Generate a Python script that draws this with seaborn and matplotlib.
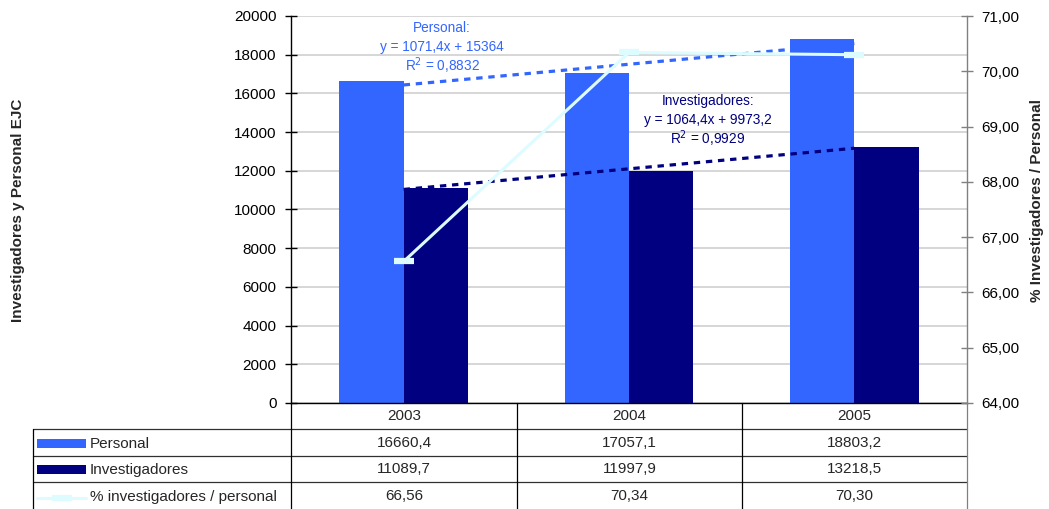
import numpy as np
import pandas as pd
import matplotlib
matplotlib.use("Agg")
import matplotlib.pyplot as plt
import seaborn as sns
from matplotlib.lines import Line2D
from matplotlib.patches import Rectangle

# ---------------- data ----------------
years = ["2003", "2004", "2005"]
personal = [16660.4, 17057.1, 18803.2]
investigadores = [11089.7, 11997.9, 13218.5]
ratio = [66.56, 70.34, 70.30]
series_names = ["Personal", "Investigadores", "% investigadores / personal"]
left_ticks = [0, 2000, 4000, 6000, 8000, 10000, 12000, 14000, 16000, 18000, 20000]
right_ticks = [64, 65, 66, 67, 68, 69, 70, 71]
ylabel_left = "Investigadores y Personal EJC"
ylabel_right = "% Investigadores / Personal"

c_pers = "#3366FF"
c_inv = "#000080"
c_ratio = "#DDFCFF"

W, H = 1049, 509
sns.set_theme(style="white")
plt.rcParams['font.family'] = ['Liberation Sans', 'DejaVu Sans']

FS = 11
FS_ANN = 9.8

fig = plt.figure(figsize=(W / 100, H / 100), dpi=100)


def fx(x):
    return x / W


def fy(y):
    return 1 - y / H


L, R, T, B = 291, 967, 16, 403
ax = fig.add_axes([fx(L), fy(B), fx(R) - fx(L), fy(T) - fy(B)])

df = pd.DataFrame({
    "year": years * 2,
    "serie": [series_names[0]] * 3 + [series_names[1]] * 3,
    "valor": personal + investigadores,
})
sns.barplot(data=df, x="year", y="valor", hue="serie",
            palette=[c_pers, c_inv], width=0.57, saturation=1,
            ax=ax, legend=False, linewidth=0, errorbar=None, gap=0)

ax.set_xlim(-0.5, 2.5)
ax.set_ylim(0, 20000)
ax.set_yticks(left_ticks)
ax.set_yticklabels([str(t) for t in left_ticks])
ax.set_xticks([])
ax.set_xlabel("")
ax.set_ylabel("")
ax.yaxis.grid(True, color="#d0d0d0", lw=1.2)
ax.set_axisbelow(True)
ax.tick_params(axis="y", direction="inout", length=9, width=1, labelsize=FS,
               colors="black", pad=6, left=True)
for s in ["top", "right"]:
    ax.spines[s].set_visible(False)
ax.spines["left"].set_color("black")
ax.spines["bottom"].set_color("black")
ax.spines["left"].set_linewidth(1)
ax.spines["bottom"].set_linewidth(1)

# trend lines (Excel-style linear fit, x = 1..3)
xs = np.array([1, 2, 3])


def fit(vals):
    v = np.array(vals)
    m, b = np.polyfit(xs, v, 1)
    pred = m * xs + b
    r2 = 1 - np.sum((v - pred) ** 2) / np.sum((v - v.mean()) ** 2)
    return m, b, r2, pred


def fmt(v, sig=5):
    d = max(0, sig - len(str(int(abs(v)))))
    s = f"{v:.{d}f}"
    return s.replace(".", ",")


mp, bp, r2p, predp = fit(personal)
mi, bi, r2i, predi = fit(investigadores)

sns.lineplot(x=xs - 1, y=predp, ax=ax, color=c_pers, lw=2.3,
             linestyle=(0, (2, 1.8)), legend=False)
sns.lineplot(x=xs - 1, y=predi, ax=ax, color=c_inv, lw=2.3,
             linestyle=(0, (2, 1.8)), legend=False)

# annotations
fig.text(fx(442), fy(28), "Personal:", color=c_pers, fontsize=FS_ANN, ha="center", va="center")
fig.text(fx(442), fy(47), f"y = {fmt(mp)}x + {fmt(bp)}", color=c_pers, fontsize=FS_ANN,
         ha="center", va="center")
fig.text(fx(442), fy(66), f"R$^2$ = {r2p:.4f}".replace(".", ","), color=c_pers,
         fontsize=FS_ANN, ha="center", va="center")
fig.text(fx(708), fy(101), "Investigadores:", color=c_inv, fontsize=FS_ANN,
         ha="center", va="center")
fig.text(fx(708), fy(120), f"y = {fmt(mi)}x + {fmt(bi)}", color=c_inv, fontsize=FS_ANN,
         ha="center", va="center")
fig.text(fx(708), fy(139), f"R$^2$ = {r2i:.4f}".replace(".", ","), color=c_inv,
         fontsize=FS_ANN, ha="center", va="center")

# secondary axis
ax2 = ax.twinx()
sns.lineplot(x=[0, 1, 2], y=ratio, ax=ax2, color=c_ratio, lw=2.2,
             marker="_", markersize=14, markeredgewidth=4.5,
             markeredgecolor=c_ratio, legend=False)
ax2.set_xlim(-0.5, 2.5)
ax2.set_ylim(64, 71)
ax2.set_yticks(right_ticks)
ax2.set_yticklabels([f"{t:.2f}".replace(".", ",") for t in right_ticks])
ax2.tick_params(axis="y", direction="inout", length=9, width=1, labelsize=FS,
                colors="black", pad=6, right=True)
ax2.tick_params(axis="y", color="#808080")
for s in ["top", "left", "bottom"]:
    ax2.spines[s].set_visible(False)
ax2.spines["right"].set_color("#808080")
ax2.spines["right"].set_linewidth(1)
ax2.set_ylabel("")
ax2.grid(False)

# axis titles
fig.text(fx(18), fy(210), ylabel_left, rotation=90, fontsize=FS, fontweight="bold",
         ha="center", va="center")
fig.text(fx(1037), fy(200), ylabel_right, rotation=90, fontsize=FS, fontweight="bold",
         ha="center", va="center")

# ---------------- data table ----------------
def hline(x0, x1, y, color="black"):
    fig.add_artist(Line2D([fx(x0), fx(x1)], [fy(y), fy(y)], color=color, lw=0.9))


def vline(x, y0, y1, color="black"):
    fig.add_artist(Line2D([fx(x), fx(x)], [fy(y0), fy(y1)], color=color, lw=0.9))


col_edges = [291, 517, 742, 967]
row_lines = [429, 456, 482]
for y in row_lines:
    hline(33, 967, y, "#303030")
vline(33, 429, 509)
vline(291, 403, 509)
vline(517, 403, 509)
vline(742, 403, 509)
vline(967, 403, 509, "#808080")

centers = [(col_edges[i] + col_edges[i + 1]) / 2 for i in range(3)]
row_centers = [416, 443, 469, 496]
for i, yr in enumerate(years):
    fig.text(fx(centers[i]), fy(row_centers[0]), yr, fontsize=FS, ha="center", va="center")
    fig.text(fx(centers[i]), fy(row_centers[1]), fmt(personal[i], 6), fontsize=FS,
             ha="center", va="center")
    fig.text(fx(centers[i]), fy(row_centers[2]), fmt(investigadores[i], 6), fontsize=FS,
             ha="center", va="center")
    fig.text(fx(centers[i]), fy(row_centers[3]), f"{ratio[i]:.2f}".replace(".", ","),
             fontsize=FS, ha="center", va="center")

# legend keys
fig.add_artist(Rectangle((fx(37), fy(448)), fx(86) - fx(37), fy(439) - fy(448),
                         facecolor=c_pers, edgecolor="none"))
fig.add_artist(Rectangle((fx(37), fy(474)), fx(86) - fx(37), fy(465) - fy(474),
                         facecolor=c_inv, edgecolor="none"))
fig.add_artist(Line2D([fx(37), fx(86)], [fy(498), fy(498)], color=c_ratio, lw=2.2))
fig.add_artist(Line2D([fx(61.5)], [fy(498)], color=c_ratio, marker="_",
                      markersize=14, markeredgewidth=4.5))
for name, yc in zip(series_names, row_centers[1:]):
    fig.text(fx(90), fy(yc + 1), name, fontsize=FS, ha="left", va="center")

fig.savefig("out.png", dpi=100)
